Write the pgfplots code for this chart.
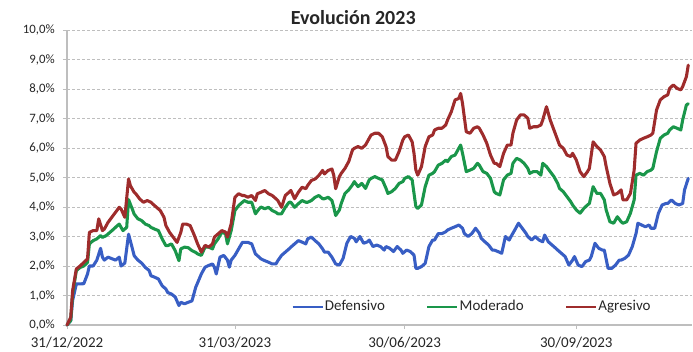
\documentclass[border=0pt]{standalone}
\usepackage{pgfplots}
\pgfplotsset{compat=1.18}
\usepackage{fontspec}
\setmainfont{Carlito}

\definecolor{defensivo}{RGB}{56,94,196}
\definecolor{moderado}{RGB}{26,150,74}
\definecolor{agresivo}{RGB}{158,44,44}
\definecolor{axisgray}{RGB}{190,190,190}

\begin{document}
\begin{tikzpicture}
\begin{axis}[
  scale only axis,
  width=468.75pt, height=221.25pt,
  xmin=0, xmax=335, ymin=0, ymax=10,
  axis x line*=bottom, axis y line*=left,
  axis line style={axisgray, line width=0.8pt},
  xtick={0,90,181,273},
  xticklabels={31/12/2022,31/03/2023,30/06/2023,30/09/2023},
  ytick={0,1,2,3,4,5,6,7,8,9,10},
  yticklabels={{0,0\%},{1,0\%},{2,0\%},{3,0\%},{4,0\%},{5,0\%},{6,0\%},{7,0\%},{8,0\%},{9,0\%},{10,0\%}},
  tick style={axisgray, line width=0.6pt},
  major tick length=3pt,
  tick align=outside,
  xticklabel style={font=\fontsize{11.25pt}{12pt}\selectfont, inner sep=0pt, anchor=base, yshift=-13.5pt, text=black!85},
  yticklabel style={font=\fontsize{9.6pt}{10pt}\selectfont, inner sep=0pt, xshift=-6pt, text=black!85},
  ymajorgrids,
  major grid style={axisgray, dash pattern=on 2.2pt off 1.6pt, line width=0.5pt},
  clip=false,
  legend columns=3,
  legend style={at={(rel axis cs:0.6475,0.062)}, anchor=center, draw=none, fill=none,
    font=\fontsize{11.25pt}{12pt}\selectfont,
    /tikz/every even column/.append style={column sep=30pt},
    nodes={inner sep=1pt, text=black!85}},
  legend image code/.code={\draw[#1, line width=1.6pt, line cap=butt] (0pt,0pt) -- (22.5pt,0pt);},
  every axis plot/.append style={line width=2.3pt, line join=round, line cap=round},
]

% Defensivo
\addplot[defensivo] coordinates {
(0,0) (2,0.15) (3,0.83) (5,1.39) (9,1.40) (11,1.73) (12,2.0) (14,2.0) (16,2.2) (18,2.6) (19,2.3) (20,2.2) (22,2.3) (24,2.25) (26,2.2) (28,2.3) (29,2.0) (31,2.1) (33,3.08) (35,2.6) (36,2.35) (38,2.2) (40,2.1) (42,1.95) (44,1.85) (45,1.67) (47,1.62) (49,1.56) (51,1.33) (53,1.22) (54,1.1) (56,1.05) (58,0.95) (60,0.66) (61,0.77) (63,0.72) (65,0.77) (67,0.82) (69,1.28) (72,1.73) (74,1.96) (76,2.02) (78,2.07) (79,1.96) (80,1.73) (82,2.3) (84,2.36) (86,2.2) (87,1.96) (88,2.2) (90,2.36) (92,2.58) (94,2.8) (95,2.8) (97,2.8) (99,2.75) (101,2.41) (103,2.3) (104,2.24) (106,2.18) (108,2.13) (110,2.07) (112,2.07) (113,2.18) (115,2.36) (117,2.47) (119,2.58) (120,2.64) (122,2.75) (124,2.86) (126,2.81) (128,2.75) (129,2.92) (131,2.98) (133,2.86) (135,2.75) (137,2.58) (138,2.47) (140,2.47) (142,2.3) (144,2.07) (146,2.03) (148,2.26) (150,2.77) (152,3.0) (154,2.94) (155,2.82) (157,3.0) (159,2.77) (161,2.82) (162,2.88) (164,2.66) (166,2.71) (168,2.66) (170,2.54) (171,2.66) (173,2.6) (175,2.49) (177,2.66) (179,2.54) (180,2.43) (182,2.54) (184,2.49) (186,2.37) (187,1.92) (188,1.92) (190,1.98) (192,2.09) (194,2.66) (196,2.88) (197,2.88) (199,3.1) (201,3.1) (203,3.16) (204,3.22) (206,3.28) (208,3.33) (210,3.39) (212,3.28) (213,3.1) (215,3.0) (217,3.1) (219,3.28) (221,3.11) (222,2.94) (224,2.82) (226,2.71) (228,2.54) (229,2.54) (231,2.49) (233,2.43) (235,3.0) (237,2.88) (238,3.0) (240,3.22) (242,3.45) (244,3.28) (246,3.11) (247,3.0) (249,2.88) (251,3.0) (253,2.88) (255,2.82) (256,3.05) (258,2.82) (260,2.71) (262,2.6) (263,2.54) (265,2.43) (267,2.32) (269,2.03) (271,2.2) (272,2.32) (274,2.03) (276,1.98) (278,2.15) (280,2.2) (281,2.32) (283,2.77) (285,2.6) (287,2.54) (288,2.54) (290,1.92) (292,1.92) (294,2.03) (296,2.2) (297,2.2) (299,2.26) (301,2.37) (303,2.66) (305,3.1) (306,3.45) (308,3.39) (310,3.33) (312,3.39) (313,3.28) (315,3.28) (317,3.79) (319,4.07) (321,4.12) (322,4.12) (324,4.24) (326,4.12) (328,4.07) (330,4.12) (331,4.58) (333,4.97)
};
\addlegendentry{Defensivo}

% Moderado
\addplot[moderado] coordinates {
(0,0) (2,0.15) (3,1.05) (5,1.84) (7,1.95) (9,2.0) (11,2.12) (12,2.75) (14,2.86) (16,2.92) (18,3.03) (19,2.97) (21,3.03) (23,3.14) (25,3.25) (27,3.37) (28,3.42) (30,3.2) (32,3.31) (33,4.25) (35,3.93) (36,3.76) (38,3.6) (40,3.54) (42,3.42) (44,3.37) (45,3.31) (47,3.25) (49,3.2) (51,2.92) (53,2.69) (54,2.69) (56,2.75) (58,2.52) (60,2.18) (61,2.58) (63,2.64) (65,2.62) (67,2.52) (69,2.46) (70,2.41) (72,2.36) (74,2.64) (76,2.64) (78,2.58) (79,2.75) (81,2.92) (83,3.15) (85,3.09) (86,2.75) (88,3.2) (89,3.54) (90,3.88) (92,4.05) (94,4.16) (95,4.22) (97,4.16) (99,4.16) (101,3.77) (103,3.94) (104,4.0) (106,3.94) (108,3.99) (110,3.88) (112,3.82) (113,3.77) (115,3.77) (117,3.99) (119,4.16) (120,4.16) (122,3.99) (124,4.11) (126,4.22) (128,4.16) (129,4.16) (131,4.22) (133,4.33) (135,4.39) (137,4.28) (138,4.28) (140,4.33) (142,4.22) (143,3.99) (144,3.71) (146,3.9) (147,4.12) (149,4.46) (151,4.58) (153,4.75) (154,4.86) (156,4.69) (158,4.8) (160,4.63) (162,4.92) (163,4.97) (165,5.03) (167,4.97) (169,4.92) (171,4.63) (172,4.46) (174,4.52) (176,4.63) (178,4.8) (180,4.86) (181,4.97) (183,5.03) (185,4.92) (186,4.46) (187,4.01) (188,3.95) (190,4.07) (192,4.69) (194,5.08) (196,5.14) (197,5.2) (199,5.42) (201,5.48) (203,5.59) (204,5.54) (206,5.71) (208,5.76) (210,5.99) (211,6.1) (212,5.82) (214,5.2) (216,5.25) (218,5.31) (220,5.48) (221,5.42) (223,5.2) (225,5.14) (227,4.97) (229,4.52) (230,4.46) (232,4.41) (234,4.92) (236,5.08) (238,5.14) (239,5.48) (241,5.65) (243,5.59) (245,5.48) (247,5.31) (248,5.14) (250,5.2) (252,5.2) (254,5.08) (255,5.48) (257,5.37) (259,5.2) (261,5.03) (263,4.8) (264,4.63) (266,4.52) (268,4.35) (270,4.18) (271,4.07) (273,3.9) (275,3.79) (277,3.95) (279,4.07) (280,4.12) (282,4.69) (284,4.46) (286,4.46) (288,4.24) (289,3.9) (291,3.5) (293,3.45) (295,3.67) (297,3.5) (298,3.45) (300,3.5) (302,3.79) (304,4.24) (305,5.08) (307,5.14) (309,5.08) (311,5.2) (313,5.25) (314,5.31) (316,5.88) (318,6.33) (320,6.44) (322,6.5) (323,6.61) (325,6.72) (327,6.67) (329,6.61) (330,6.95) (332,7.46) (333,7.5)
};
\addlegendentry{Moderado}

% Agresivo
\addplot[agresivo] coordinates {
(0,0) (2,0.26) (3,1.16) (5,1.9) (7,2.0) (9,2.12) (11,2.24) (12,3.14) (14,3.2) (16,3.2) (17,3.6) (19,3.2) (20,3.25) (22,3.48) (24,3.65) (26,3.82) (28,3.99) (29,3.93) (31,3.65) (33,4.95) (34,4.72) (36,4.5) (37,4.44) (39,4.27) (41,4.16) (43,4.22) (45,4.16) (46,4.1) (48,3.99) (50,3.88) (52,3.65) (53,3.37) (55,3.14) (57,2.97) (59,2.8) (61,3.14) (62,3.42) (64,3.42) (66,3.37) (68,3.08) (70,2.75) (72,2.47) (74,2.7) (76,2.64) (78,2.75) (79,2.98) (81,3.09) (83,3.2) (85,3.15) (86,2.98) (88,3.43) (89,3.88) (90,4.33) (92,4.45) (94,4.39) (95,4.39) (97,4.33) (99,4.39) (101,4.22) (102,4.45) (104,4.5) (106,4.56) (108,4.45) (110,4.39) (112,4.28) (113,4.22) (115,3.99) (117,4.39) (119,4.5) (120,4.56) (122,4.28) (124,4.5) (126,4.67) (128,4.62) (129,4.73) (131,4.9) (133,4.95) (135,5.07) (137,5.24) (138,5.12) (140,5.24) (142,5.29) (143,5.07) (144,4.62) (146,5.03) (147,5.14) (149,5.31) (151,5.54) (153,5.93) (154,5.99) (156,6.05) (158,5.99) (160,6.1) (162,6.33) (163,6.44) (165,6.5) (167,6.5) (169,6.38) (171,6.05) (172,5.71) (174,5.59) (176,5.59) (178,5.88) (180,6.27) (181,6.38) (183,6.44) (185,6.21) (186,5.82) (187,5.25) (188,5.08) (190,5.37) (192,6.05) (194,6.38) (196,6.44) (197,6.61) (199,6.67) (201,6.67) (203,6.78) (204,6.95) (206,7.23) (208,7.63) (210,7.68) (211,7.85) (212,7.51) (214,6.55) (216,6.5) (218,6.67) (220,6.72) (221,6.67) (223,6.44) (225,6.16) (227,5.76) (229,5.48) (230,5.48) (232,5.37) (234,5.82) (236,6.1) (238,6.1) (239,6.5) (241,6.95) (243,7.12) (245,7.12) (247,7.01) (248,6.67) (250,6.72) (252,6.72) (254,6.78) (255,6.95) (257,7.4) (259,6.95) (261,6.61) (263,6.27) (264,6.1) (266,5.99) (268,5.76) (270,5.71) (271,5.82) (273,5.59) (275,5.2) (277,5.03) (279,5.2) (280,5.31) (282,6.21) (284,6.05) (286,5.93) (288,5.71) (289,5.37) (291,4.8) (293,4.41) (295,4.46) (297,4.58) (298,4.24) (300,4.24) (302,4.46) (304,5.25) (305,6.16) (307,6.27) (309,6.33) (311,6.38) (313,6.44) (314,6.5) (316,7.29) (318,7.63) (320,7.74) (322,7.8) (323,8.02) (325,8.14) (327,8.02) (329,7.97) (330,8.08) (332,8.42) (333,8.81)
};
\addlegendentry{Agresivo}

\node[anchor=base, inner sep=0pt, font=\fontsize{15pt}{16pt}\selectfont\bfseries, text=black!85]
  at (rel axis cs:0.458,1) [yshift=4.5pt] {Evolución 2023};

\coordinate (sw) at (rel axis cs:0,0);
\coordinate (ne) at (rel axis cs:1,1);
\end{axis}
\pgfresetboundingbox
\path[use as bounding box] ([xshift=-50.25pt, yshift=-19.5pt]sw) rectangle ([xshift=0.75pt, yshift=22.5pt]ne);
\end{tikzpicture}
\end{document}
